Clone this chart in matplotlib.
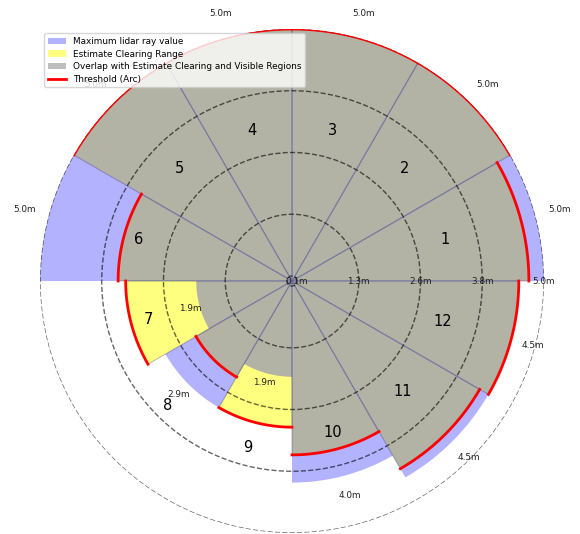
import numpy as np
import matplotlib
matplotlib.use("Agg")
import matplotlib.pyplot as plt
from matplotlib.patches import Patch
from matplotlib.lines import Line2D

# Sector data (12 sectors of 30 degrees, counter-clockwise from 0 deg)
sectors = ["1", "2", "3", "4", "5", "6", "7", "8", "9", "10", "11", "12"]
max_lidar = [5.0, 5.0, 5.0, 5.0, 5.0, 5.0, 1.9, 2.9, 1.9, 4.0, 4.5, 4.5]
clearing = [4.7, 5.0, 5.0, 5.0, 5.0, 3.45, 3.3, 2.2, 2.9, 3.45, 4.3, 4.5]

# Radial axis ticks
r_ticks = [0.1, 1.325, 2.55, 3.775, 5.0]
r_tick_labels = ["0.1m", "1.3m", "2.6m", "3.8m", "5.0m"]

# Radius at which each sector number is written
number_r = [3.15, 3.15, 3.1, 3.1, 3.15, 3.15, 2.95, 3.48, 3.43, 3.12, 3.1, 3.1]

fig = plt.figure(figsize=(5.8, 5.34), dpi=100)
ax = fig.add_axes([40 / 580, 1 / 534, 504 / 580, 504 / 534], projection="polar")

n = len(sectors)
width = 2 * np.pi / n
theta = np.arange(n) * width + width / 2

ax.bar(theta, clearing, width=width, facecolor="yellow", edgecolor="gray",
       linewidth=0.8, alpha=0.5)
ax.bar(theta, max_lidar, width=width, facecolor="blue", edgecolor="none",
       alpha=0.3)

for t, c in zip(theta, clearing):
    arc = np.linspace(t - width / 2, t + width / 2, 80)
    ax.plot(arc, np.full_like(arc, c), color="red", lw=2)

for t, m in zip(theta, max_lidar):
    ax.text(t, m * 1.1, f"{m:.1f}m", ha="center", va="center", fontsize=6.4,
            color="#222222")

for t, s, r in zip(theta, sectors, number_r):
    ax.text(t, r, s, ha="center", va="center", fontsize=10.5, color="black")

ax.set_ylim(0, 5.0)
ax.set_yticks(r_ticks)
ax.set_yticklabels([])
for r, lab in zip(r_ticks, r_tick_labels):
    ax.text(0, r, lab, ha="center", va="center", fontsize=6.4, color="#222222")
ax.set_xticks([])
ax.yaxis.grid(True, linestyle="--", color="black", alpha=0.6, linewidth=1)
ax.spines["polar"].set_visible(False)

handles = [
    Patch(facecolor="blue", alpha=0.3, label="Maximum lidar ray value"),
    Patch(facecolor="yellow", alpha=0.5, label="Estimate Clearing Range"),
    Patch(facecolor="gray", alpha=0.5,
          label="Overlap with Estimate Clearing and Visible Regions"),
    Line2D([0], [0], color="red", lw=2, label="Threshold (Arc)"),
]
ax.legend(handles=handles, loc="upper left", fontsize=6.4, labelspacing=0.4)

fig.savefig("out.png", dpi=100)
